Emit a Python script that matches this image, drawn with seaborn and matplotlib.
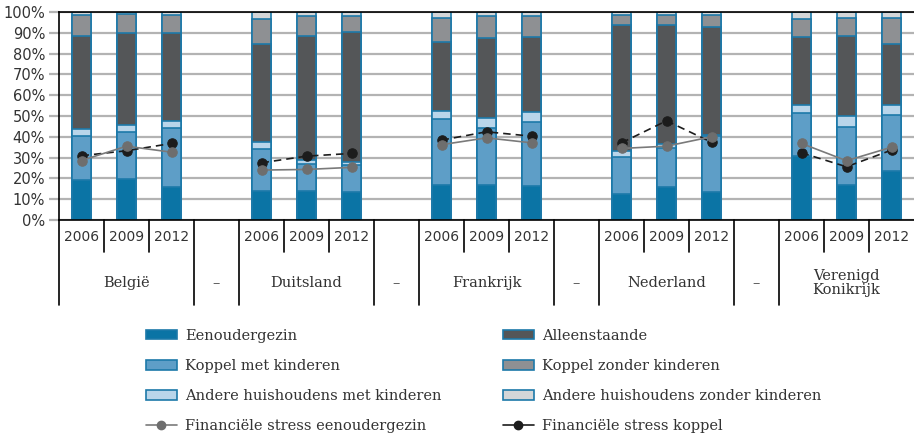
import numpy as np
import pandas as pd
import matplotlib
matplotlib.use("Agg")
import matplotlib.pyplot as plt
from matplotlib.patches import Patch
from matplotlib.lines import Line2D
import seaborn as sns

# ---- data -------------------------------------------------------------
countries = ["België", "Duitsland", "Frankrijk", "Nederland", "Verenigd\nKonikrijk"]
years = ["2006", "2009", "2012"]

# household composition shares (%), order: country x year
eenoudergezin = [19.2, 19.5, 15.8, 14.1, 14.1, 13.3, 16.6, 16.6, 16.3,
                 12.3, 15.8, 13.4, 30.9, 16.6, 23.4]
koppel_met_kinderen = [21.3, 22.9, 28.2, 19.8, 12.8, 13.1, 32.0, 27.6, 30.9,
                       18.1, 18.9, 26.9, 20.6, 28.0, 27.3]
andere_met_kinderen = [3.3, 3.5, 3.7, 3.4, 1.9, 1.4, 4.0, 4.6, 4.6,
                       2.7, 1.8, 0.5, 3.9, 5.3, 4.7]
alleenstaande = [44.5, 44.2, 42.4, 47.2, 59.8, 62.8, 32.8, 38.6, 36.2,
                 60.5, 57.3, 52.0, 32.4, 38.6, 29.2]
koppel_zonder_kinderen = [10.4, 9.1, 8.3, 12.1, 9.5, 7.6, 11.7, 10.8, 9.9,
                          5.0, 4.6, 5.9, 8.7, 8.6, 12.5]
andere_zonder_kinderen = [1.3, 0.8, 1.6, 3.4, 1.9, 1.8, 2.9, 1.8, 2.1,
                          1.4, 1.6, 1.3, 3.5, 2.9, 2.9]

# financial stress (%)
stress_eenoudergezin = [28.6, 35.5, 32.6, 24.0, 24.3, 25.3, 36.2, 39.5, 37.1,
                        34.4, 35.5, 40.0, 36.8, 28.5, 35.0]
stress_koppel = [30.9, 33.3, 36.8, 27.5, 30.7, 32.0, 38.4, 42.4, 40.3,
                 37.1, 47.7, 37.4, 32.3, 25.6, 33.6]

segment_labels = ["Eenoudergezin", "Koppel met kinderen",
                  "Andere huishoudens met kinderen", "Alleenstaande",
                  "Koppel zonder kinderen", "Andere huishoudens zonder kinderen"]
segment_colors = ["#0b74a5", "#5e9ec7", "#b9d5ea", "#545658", "#8e9093", "#d4d6d8"]
edge_color = "#1d79a9"

# ---- layout of slots: three years per country, one empty slot between --
pos = []
country_col = []
for ci, c in enumerate(countries):
    for yi in range(3):
        pos.append(ci * 4 + yi)
        country_col.append(c)

segments = [eenoudergezin, koppel_met_kinderen, andere_met_kinderen,
            alleenstaande, koppel_zonder_kinderen, andere_zonder_kinderen]
cum = np.cumsum(np.array(segments), axis=0)

df = pd.DataFrame({"pos": pos, "country": country_col,
                   "stress_een": stress_eenoudergezin,
                   "stress_kop": stress_koppel})
for i in range(len(segments)):
    df[f"cum{i}"] = cum[i]

# ---- figure -------------------------------------------------------------
sns.set_style("white")
plt.rcParams["font.family"] = ["DejaVu Sans"]
text_color = "#333333"

fig = plt.figure(figsize=(9.14, 4.37), dpi=100)
ax = fig.add_axes([59 / 914, 1 - 220 / 437, 1 - 59 / 914, 208 / 437])

# stacked bars: draw cumulative levels from the top down
for i in reversed(range(len(segments))):
    sns.barplot(data=df, x="pos", y=f"cum{i}", native_scale=True, width=0.44,
                color=segment_colors[i], saturation=1, edgecolor=edge_color,
                linewidth=1.2, errorbar=None, ax=ax, zorder=2)

# financial stress lines, one line per country
sns.lineplot(data=df, x="pos", y="stress_kop", units="country", estimator=None,
             color="#1c1c1c", linestyle=(0, (4.5, 3)), linewidth=1.2,
             marker="o", markersize=6.8, markeredgecolor="#1c1c1c",
             legend=False, ax=ax, zorder=4)
sns.lineplot(data=df, x="pos", y="stress_een", units="country", estimator=None,
             color="#7a7a7a", linewidth=1.2, marker="o", markersize=6.8,
             markeredgecolor="#6e6e6e", markerfacecolor="#6e6e6e",
             legend=False, ax=ax, zorder=5)

ax.set_xlim(-0.5, 18.5)
ax.set_ylim(0, 100)
ax.set_xlabel("")
ax.set_ylabel("")
ax.set_xticks([])
ax.set_yticks(np.arange(0, 101, 10))
ax.set_yticklabels([f"{v}%" for v in range(0, 101, 10)], fontsize=10.5,
                   color=text_color)
ax.yaxis.grid(True, color="#b3b3b3", linewidth=1.6, zorder=0)
ax.set_axisbelow(True)
ax.tick_params(axis="y", length=7, width=1.6, color="#b3b3b3", pad=3, left=True)
for side in ["left", "bottom", "top"]:
    ax.spines[side].set_color("black")
    ax.spines[side].set_linewidth(1.2)
ax.spines["right"].set_visible(False)

# ---- category axis below the plot -------------------------------------
trans = matplotlib.transforms.blended_transform_factory(ax.transData, fig.transFigure)
fy = lambda px: 1 - px / 437

for ci, c in enumerate(countries):
    base = ci * 4
    for yi, yr in enumerate(years):
        ax.text(base + yi, fy(237), yr, transform=trans, ha="center",
                va="center", fontsize=10, color=text_color)
    ax.text(base + 1, fy(283), c, transform=trans, ha="center", va="center",
            fontsize=10.5, family="DejaVu Serif", color=text_color,
            linespacing=1.05)
    if ci < len(countries) - 1:
        ax.text(base + 3, fy(283), "–", transform=trans, ha="center",
                va="center", fontsize=10.5, family="DejaVu Serif",
                color=text_color)

long_lines = [-0.5] + [ci * 4 + d for ci in range(4) for d in (2.5, 3.5)]
short_lines = [ci * 4 + d for ci in range(5) for d in (0.5, 1.5)]
for x in long_lines:
    ax.plot([x, x], [fy(220), fy(305)], transform=trans, color="black",
            linewidth=1.2, clip_on=False)
for x in short_lines:
    ax.plot([x, x], [fy(220), fy(252)], transform=trans, color="black",
            linewidth=1.2, clip_on=False)

# ---- legend -------------------------------------------------------------
def patch(i):
    return Patch(facecolor=segment_colors[i], edgecolor=edge_color,
                 linewidth=1.2, label=segment_labels[i])

handles = [patch(0), patch(1), patch(2),
           Line2D([], [], color="#7a7a7a", marker="o", markersize=6,
                  markerfacecolor="#6e6e6e", markeredgecolor="#6e6e6e",
                  linewidth=1.2, label="Financiële stress eenoudergezin"),
           patch(3), patch(4), patch(5),
           Line2D([], [], color="#1c1c1c", marker="o", markersize=6,
                  markerfacecolor="#1c1c1c", linewidth=1.2,
                  label="Financiële stress koppel")]

fig.legend(handles=handles, ncol=2, loc="upper left",
           bbox_to_anchor=(146 / 914, fy(329)), frameon=False,
           prop={"family": "DejaVu Serif", "size": 10.5},
           handlelength=2.1, handleheight=0.6, handletextpad=0.6,
           labelspacing=1.1, columnspacing=4.2, borderpad=0, borderaxespad=0,
           labelcolor=text_color)

fig.savefig("out.png", dpi=100)
